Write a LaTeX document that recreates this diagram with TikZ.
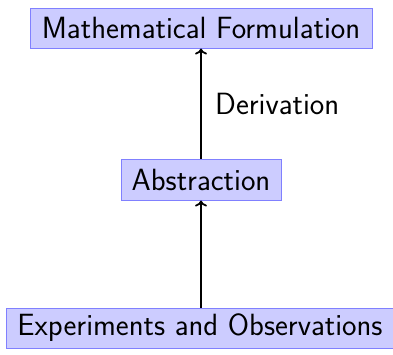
\documentclass[tikz,border=0pt]{standalone}
\usetikzlibrary{arrows.meta}
\begin{document}
\begin{tikzpicture}[x=1pt,y=-1pt,
  box/.style={draw=blue!50,fill=blue!20,line width=1pt,inner sep=0pt,font=\sffamily\fontsize{30.7}{36}\selectfont},
  conn/.style={line width=1.7pt,-{To[length=6pt,width=12pt]}}]
\useasboundingbox (0,0) rectangle (393,354);
\node[box,minimum width=342,minimum height=40] (mf) at (201,28) {Mathematical Formulation};
\node[box,minimum width=160,minimum height=41] (ab) at (201,179.5) {Abstraction};
\node[box,minimum width=388,minimum height=40] (eo) at (200,328) {Experiments and Observations};
\draw[conn] (eo.north -| ab.south) -- (ab.south);
\draw[conn] (ab.north) -- (mf.south) node[pos=0.5,anchor=west,xshift=10pt,font=\sffamily\fontsize{30.7}{36}\selectfont] (dl) {Derivation};
\end{tikzpicture}
\end{document}
